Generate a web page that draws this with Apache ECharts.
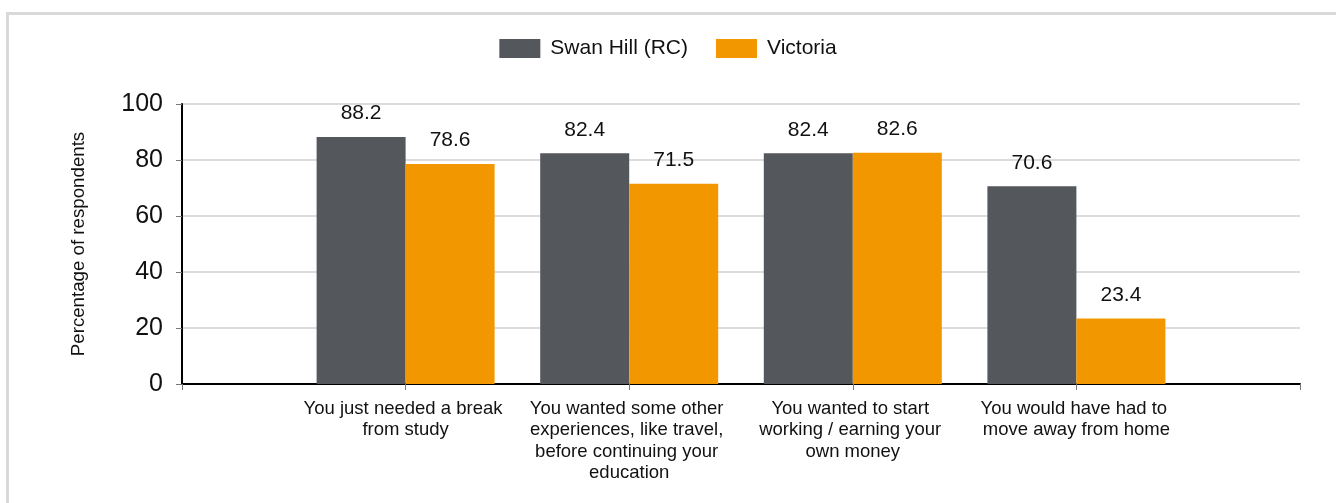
<!DOCTYPE html>
<html>
<head>
<meta charset="utf-8">
<script src="https://cdn.jsdelivr.net/npm/echarts@6/dist/echarts.min.js"></script>
<style>
html,body{margin:0;padding:0;background:#fff;}
#chart{width:1336px;height:503px;}
</style>
</head>
<body>
<div id="chart"></div>
<script>
const categories = [
  "You just needed a break from study",
  "You wanted some other experiences, like travel, before continuing your education",
  "You wanted to start working / earning your own money",
  "You would have had to move away from home"
];
const seriesNames = ["Swan Hill (RC)", "Victoria"];
const swanHill = [88.2, 82.4, 82.4, 70.6];
const victoria = [78.6, 71.5, 82.6, 23.4];
const yTicks = [0, 20, 40, 60, 80, 100];
const yAxisTitle = "Percentage of respondents";

// pad an empty slot at each end so the axis runs half a band beyond the groups
const axisCats = [""].concat(categories, [""]);
const pad = arr => [null].concat(arr, [null]);

const chart = echarts.init(document.getElementById('chart'), null, {renderer: 'canvas'});
const font = "'Liberation Sans', Arial, sans-serif";
const labelStyle = {
  show: true, position: 'top', distance: 13,
  fontFamily: font, fontSize: 21, color: '#111',
  formatter: p => p.value.toFixed(1)
};
chart.setOption({
  animation: false,
  backgroundColor: '#fff',
  textStyle: {fontFamily: font},
  graphic: [{
    type: 'rect', silent: true, z: -10,
    shape: {x: 7.5, y: 13.5, width: 1400, height: 600},
    style: {fill: 'none', stroke: '#d9d9d9', lineWidth: 3}
  }],
  legend: {
    top: 33, left: 'center',
    icon: 'rect',
    itemWidth: 41, itemHeight: 19, itemGap: 28,
    textStyle: {fontFamily: font, fontSize: 21, color: '#111', padding: [0, 0, 0, 5]},
    data: seriesNames
  },
  grid: {left: 182, right: 36, top: 104, bottom: 119, containLabel: false, outerBoundsMode: 'none'},
  xAxis: {
    type: 'category',
    data: axisCats,
    boundaryGap: false,
    axisLine: {lineStyle: {color: '#000', width: 2}},
    axisTick: {show: true, length: 6, lineStyle: {color: '#777', width: 1}},
    axisLabel: {
      interval: 0, margin: 14,
      fontFamily: font, fontSize: 18.5, color: '#111', lineHeight: 21.5,
      width: 208, overflow: 'break', align: 'center', hideOverlap: false
    },
    splitLine: {show: false}
  },
  yAxis: {
    type: 'value',
    min: yTicks[0], max: yTicks[yTicks.length - 1], interval: 20,
    name: yAxisTitle, nameLocation: 'middle', nameGap: 94, nameRotate: 90,
    nameTextStyle: {fontFamily: font, fontSize: 18.7, color: '#111'},
    axisLine: {show: true, lineStyle: {color: '#000', width: 2}},
    axisTick: {show: true, length: 6, lineStyle: {color: '#777', width: 1}},
    axisLabel: {fontFamily: font, fontSize: 25, color: '#111', margin: 19},
    splitLine: {lineStyle: {color: '#dcdcdc', width: 2}}
  },
  series: [
    {
      name: seriesNames[0], type: 'bar', data: pad(swanHill),
      barWidth: 89, barGap: '0%',
      itemStyle: {color: '#54575b'},
      label: labelStyle
    },
    {
      name: seriesNames[1], type: 'bar', data: pad(victoria),
      barWidth: 89, barGap: '0%',
      itemStyle: {color: '#f39700'},
      label: labelStyle
    }
  ]
});
</script>
</body>
</html>
